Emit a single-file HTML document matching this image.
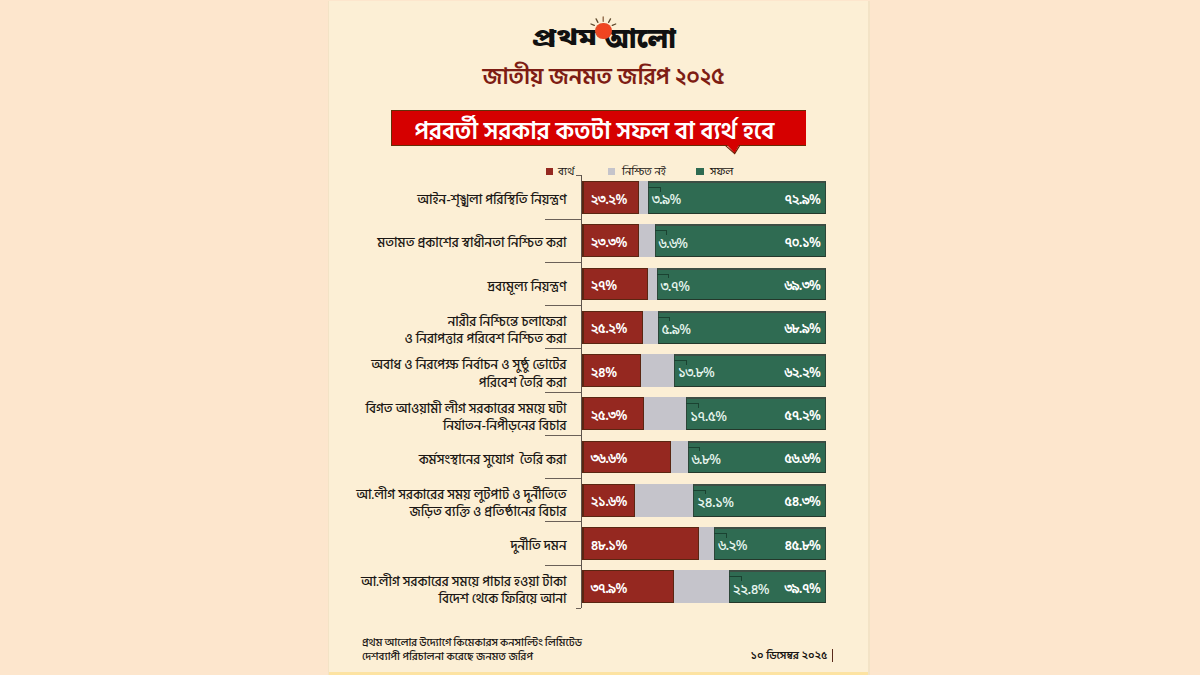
<!DOCTYPE html>
<html lang="bn"><head><meta charset="utf-8"><title>জাতীয় জনমত জরিপ ২০২৫</title>
<style>
*{margin:0;padding:0;box-sizing:border-box}
html,body{width:1200px;height:675px;overflow:hidden;background:#fde6cd}
body{position:relative;font-family:"Liberation Sans","Hind Siliguri","Noto Sans Bengali","Liberation Sans",sans-serif;color:#1b1714}
.card{position:absolute;left:328px;top:1px;width:542px;height:674px;background:#fcefd5;border-left:1.5px solid #f3e3c6;border-right:2px solid #f3e3c6}
.card .strip{position:absolute;left:0;right:0;bottom:0;height:3px;background:#fde3a2}
.logo{position:absolute;top:21px;font-family:"Noto Sans Bengali","Hind Siliguri","Liberation Sans",sans-serif;font-weight:900;font-size:24px;line-height:40px;color:#111;white-space:nowrap;transform-origin:0 0}
.mline{position:absolute;left:590px;top:29.5px;width:20px;height:2.6px;background:#111}
.sun{position:absolute;left:595px;top:22.8px;width:16.6px;height:16.6px;border-radius:50%;background:radial-gradient(circle at 55% 50%,#f2441f 0,#ee4522 55%,#d4582e 85%,#b8653a 100%)}
.rays{position:absolute;left:585px;top:12px}
.title{position:absolute;left:471.5px;width:264px;top:57px;text-align:center;font-family:"Hind Siliguri","Noto Sans Bengali","Liberation Sans",sans-serif;font-weight:600;font-size:23px;line-height:40px;color:#7e1d14;white-space:nowrap}
.banner{position:absolute;left:391px;top:110px;width:415px;height:36px;background:#d60000;border-top:1.8px solid #633008;border-bottom:1.8px solid #633008;border-left:1.3px solid #633008}
.banner span{position:absolute;left:-9.5px;right:0;top:2.7px;text-align:center;font-family:"Hind Siliguri","Noto Sans Bengali","Liberation Sans",sans-serif;font-weight:600;font-size:24.4px;line-height:36px;color:#fff;white-space:nowrap}
.ptr{position:absolute;left:724px;top:143.5px;overflow:visible}
.leg{position:absolute;top:162.5px;font-family:"Hind Siliguri","Noto Sans Bengali","Liberation Sans",sans-serif;font-size:11.2px;line-height:18px;white-space:nowrap}
.sq{position:absolute;top:168.3px;width:7.5px;height:6.5px}
.seg{position:absolute;height:32.7px}
.red{background:#952820;border:1.5px solid #5a2612;border-left-width:2px}
.gray{background:#c5c4cb}
.green{background:#2f6b52;border:1px solid #2c4638;border-top:2px solid #3d4e44;border-bottom:1.5px solid #24382b}
.v{position:absolute;font-family:"Noto Sans Bengali","Hind Siliguri","Liberation Sans",sans-serif;font-weight:600;font-size:13.5px;line-height:32.7px;margin-top:3.5px;color:#fff;white-space:nowrap;letter-spacing:-0.8px}
.vg{font-weight:500;color:#e6f5ee;margin-top:4.3px;font-size:13.8px}
.ld{position:absolute;width:12.5px;height:4.5px;border-top:1px solid #1a4231;border-right:1px solid #1a4231}
.lab{position:absolute;left:300px;width:266.5px;text-align:right;font-family:"Hind Siliguri","Noto Sans Bengali","Liberation Sans",sans-serif;font-weight:500;font-size:13.2px;line-height:30px;margin-top:2.5px;white-space:nowrap;color:#1b1714}
.lab.two{line-height:17.3px;padding-top:1px}
.axis{position:absolute;left:581px;top:175.4px;width:1px;height:433px;background:#5e544c}
.tick{position:absolute;left:545px;width:36px;height:1px;background:#6a6058}
.tick.short{left:576px;width:5px}
.foot{position:absolute;left:362px;top:637px;font-family:"Hind Siliguri","Noto Sans Bengali","Liberation Sans",sans-serif;font-weight:500;font-size:11px;line-height:13.5px;white-space:nowrap}
.date{position:absolute;right:372.5px;top:647px;font-family:"Hind Siliguri","Noto Sans Bengali","Liberation Sans",sans-serif;font-weight:600;font-size:11px;line-height:18px;white-space:nowrap}
.date .n{font-family:"Noto Sans Bengali","Hind Siliguri","Liberation Sans",sans-serif;font-size:10.8px}
.vbar{position:absolute;left:831.5px;top:649px;width:1.3px;height:13px;background:#5a2a1a}
</style></head><body>
<div class="card"><div class="strip"></div></div>
<div class="mline"></div><div class="logo" style="left:531.7px;top:19.4px;transform:scale(1.26,1)">প্রথম</div><div class="logo" style="left:604px;top:17.3px;transform:scale(1.11,1.19)">আলো</div>
<div class="sun"></div>
<svg class="rays" width="40" height="20" viewBox="585 12 40 20"><g stroke="#5e4a2e" stroke-width="1.3" stroke-linecap="round"><line x1="603.2" y1="17" x2="603.2" y2="21.3" stroke="#8a6040"/><line x1="596.1" y1="18.9" x2="597.9" y2="22.4"/><line x1="610.5" y1="18.9" x2="608.6" y2="22.4"/><line x1="591" y1="24" x2="594.3" y2="25.4"/><line x1="615.7" y1="24" x2="612.3" y2="25.4"/></g></svg>
<div class="title">জাতীয় জনমত জরিপ ২০২৫</div>
<div class="banner"><span>পরবর্তী সরকার কতটা সফল বা ব্যর্থ হবে</span></div>
<svg class="ptr" width="20" height="14" viewBox="0 0 20 14"><polygon points="2,0 15.5,0 10.7,9.2" fill="#d60000"/><polyline points="1.6,1.6 10.7,9.6 15.6,1.6" fill="none" stroke="#6a1a00" stroke-width="1.1"/><polygon points="3.2,0 14.2,0 10.7,7.6" fill="#d60000"/></svg>
<div class="sq" style="left:545.5px;background:#952820"></div><div class="leg" style="left:558px">ব্যর্থ</div>
<div class="sq" style="left:607.5px;background:#c5c4cb"></div><div class="leg" style="left:622px">নিশ্চিত নই</div>
<div class="sq" style="left:696px;background:#2f6b52"></div><div class="leg" style="left:710px">সফল</div>
<div class="axis"></div>
<div class="seg red" style="top:181.20px;left:582px;width:56.56px"></div>
<div class="seg gray" style="top:181.20px;left:638.56px;width:9.51px"></div>
<div class="seg green" style="top:181.20px;left:648.07px;width:177.73px"></div>
<div class="ld" style="top:187.20px;left:648.07px"></div>
<div class="v vl" style="top:181.20px;left:590.50px">২৩.২%</div>
<div class="v vg" style="top:181.20px;left:651.67px">৩.৯%</div>
<div class="v vr" style="top:181.20px;right:379.80px">৭২.৯%</div>
<div class="lab" style="top:182.70px">আইন-শৃঙ্খলা পরিস্থিতি নিয়ন্ত্রণ</div>
<div class="seg red" style="top:224.45px;left:582px;width:56.81px"></div>
<div class="seg gray" style="top:224.45px;left:638.81px;width:16.09px"></div>
<div class="seg green" style="top:224.45px;left:654.90px;width:170.90px"></div>
<div class="ld" style="top:230.45px;left:654.90px"></div>
<div class="v vl" style="top:224.45px;left:590.50px">২৩.৩%</div>
<div class="v vg" style="top:224.45px;left:658.50px">৬.৬%</div>
<div class="v vr" style="top:224.45px;right:379.80px">৭০.১%</div>
<div class="lab" style="top:225.95px">মতামত প্রকাশের স্বাধীনতা নিশ্চিত করা</div>
<div class="seg red" style="top:267.70px;left:582px;width:65.83px"></div>
<div class="seg gray" style="top:267.70px;left:647.83px;width:9.02px"></div>
<div class="seg green" style="top:267.70px;left:656.85px;width:168.95px"></div>
<div class="ld" style="top:273.70px;left:656.85px"></div>
<div class="v vl" style="top:267.70px;left:590.50px">২৭%</div>
<div class="v vg" style="top:267.70px;left:660.45px">৩.৭%</div>
<div class="v vr" style="top:267.70px;right:379.80px">৬৯.৩%</div>
<div class="lab" style="top:269.20px">দ্রব্যমূল্য নিয়ন্ত্রণ</div>
<div class="seg red" style="top:310.95px;left:582px;width:61.44px"></div>
<div class="seg gray" style="top:310.95px;left:643.44px;width:14.38px"></div>
<div class="seg green" style="top:310.95px;left:657.82px;width:167.98px"></div>
<div class="ld" style="top:316.95px;left:657.82px"></div>
<div class="v vl" style="top:310.95px;left:590.50px">২৫.২%</div>
<div class="v vg" style="top:310.95px;left:661.42px">৫.৯%</div>
<div class="v vr" style="top:310.95px;right:379.80px">৬৮.৯%</div>
<div class="lab two" style="top:310.55px">নারীর নিশ্চিন্তে চলাফেরা<br>ও নিরাপত্তার পরিবেশ নিশ্চিত করা</div>
<div class="seg red" style="top:354.20px;left:582px;width:58.51px"></div>
<div class="seg gray" style="top:354.20px;left:640.51px;width:33.64px"></div>
<div class="seg green" style="top:354.20px;left:674.16px;width:151.64px"></div>
<div class="ld" style="top:360.20px;left:674.16px"></div>
<div class="v vl" style="top:354.20px;left:590.50px">২৪%</div>
<div class="v vg" style="top:354.20px;left:677.76px">১৩.৮%</div>
<div class="v vr" style="top:354.20px;right:379.80px">৬২.২%</div>
<div class="lab two" style="top:353.80px">অবাধ ও নিরপেক্ষ নির্বাচন ও সুষ্ঠু ভোটের<br>পরিবেশ তৈরি করা</div>
<div class="seg red" style="top:397.45px;left:582px;width:61.68px"></div>
<div class="seg gray" style="top:397.45px;left:643.68px;width:42.66px"></div>
<div class="seg green" style="top:397.45px;left:686.35px;width:139.45px"></div>
<div class="ld" style="top:403.45px;left:686.35px"></div>
<div class="v vl" style="top:397.45px;left:590.50px">২৫.৩%</div>
<div class="v vg" style="top:397.45px;left:689.95px">১৭.৫%</div>
<div class="v vr" style="top:397.45px;right:379.80px">৫৭.২%</div>
<div class="lab two" style="top:397.05px">বিগত আওয়ামী লীগ সরকারের সময়ে ঘটা<br>নির্যাতন-নিপীড়নের বিচার</div>
<div class="seg red" style="top:440.70px;left:582px;width:89.23px"></div>
<div class="seg gray" style="top:440.70px;left:671.23px;width:16.58px"></div>
<div class="seg green" style="top:440.70px;left:687.81px;width:137.99px"></div>
<div class="ld" style="top:446.70px;left:687.81px"></div>
<div class="v vl" style="top:440.70px;left:590.50px">৩৬.৬%</div>
<div class="v vg" style="top:440.70px;left:691.41px">৬.৮%</div>
<div class="v vr" style="top:440.70px;right:379.80px">৫৬.৬%</div>
<div class="lab" style="top:442.20px">কর্মসংস্থানের সুযোগ&nbsp; তৈরি করা</div>
<div class="seg red" style="top:483.95px;left:582px;width:52.66px"></div>
<div class="seg gray" style="top:483.95px;left:634.66px;width:58.76px"></div>
<div class="seg green" style="top:483.95px;left:693.42px;width:132.38px"></div>
<div class="ld" style="top:489.95px;left:693.42px"></div>
<div class="v vl" style="top:483.95px;left:590.50px">২১.৬%</div>
<div class="v vg" style="top:483.95px;left:697.02px">২৪.১%</div>
<div class="v vr" style="top:483.95px;right:379.80px">৫৪.৩%</div>
<div class="lab two" style="top:483.55px">আ.লীগ সরকারের সময় লুটপাট ও দুর্নীতিতে<br>জড়িত ব্যক্তি ও প্রতিষ্ঠানের বিচার</div>
<div class="seg red" style="top:527.20px;left:582px;width:117.27px"></div>
<div class="seg gray" style="top:527.20px;left:699.27px;width:15.12px"></div>
<div class="seg green" style="top:527.20px;left:714.38px;width:111.42px"></div>
<div class="ld" style="top:533.20px;left:714.38px"></div>
<div class="v vl" style="top:527.20px;left:590.50px">৪৮.১%</div>
<div class="v vg" style="top:527.20px;left:717.98px">৬.২%</div>
<div class="v vr" style="top:527.20px;right:379.80px">৪৫.৮%</div>
<div class="lab" style="top:528.70px">দুর্নীতি দমন</div>
<div class="seg red" style="top:570.45px;left:582px;width:92.40px"></div>
<div class="seg gray" style="top:570.45px;left:674.40px;width:54.61px"></div>
<div class="seg green" style="top:570.45px;left:729.01px;width:96.79px"></div>
<div class="ld" style="top:576.45px;left:729.01px"></div>
<div class="v vl" style="top:570.45px;left:590.50px">৩৭.৯%</div>
<div class="v vg" style="top:570.45px;left:732.61px">২২.৪%</div>
<div class="v vr" style="top:570.45px;right:379.80px">৩৯.৭%</div>
<div class="lab two" style="top:570.05px">আ.লীগ সরকারের সময়ে পাচার হওয়া টাকা<br>বিদেশ থেকে ফিরিয়ে আনা</div>
<div class="tick short" style="top:175.40px"></div>
<div class="tick" style="top:218.65px"></div>
<div class="tick" style="top:261.90px"></div>
<div class="tick" style="top:305.15px"></div>
<div class="tick" style="top:348.40px"></div>
<div class="tick" style="top:391.65px"></div>
<div class="tick" style="top:434.90px"></div>
<div class="tick" style="top:478.15px"></div>
<div class="tick" style="top:521.40px"></div>
<div class="tick" style="top:564.65px"></div>
<div class="tick short" style="top:607.90px"></div>
<div class="foot"><span style="word-spacing:-0.6px">প্রথম আলোর উদ্যোগে কিমেকারস কনসাল্টিং লিমিটেড</span><br>দেশব্যাপী পরিচালনা করেছে জনমত জরিপ</div>
<div class="date"><span class="n">১০</span> ডিসেম্বর <span class="n">২০২৫</span></div>
<div class="vbar"></div>
</body></html>
